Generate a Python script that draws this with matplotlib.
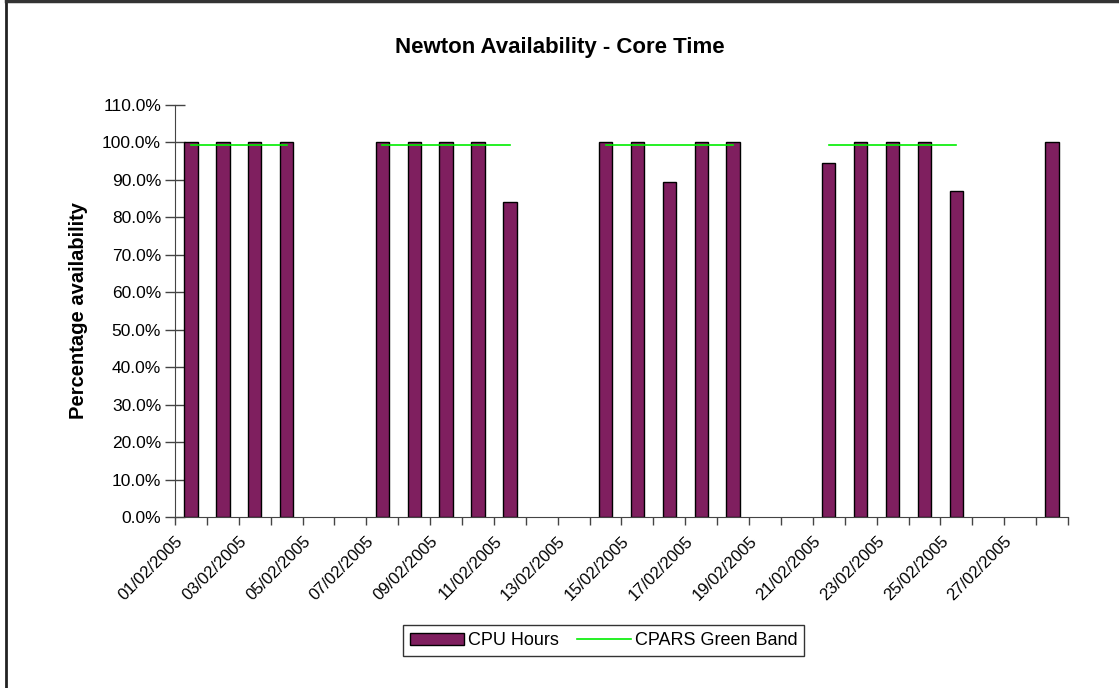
import matplotlib.pyplot as plt
import numpy as np
from matplotlib.lines import Line2D

plt.rcParams['font.family'] = ['Liberation Sans', 'DejaVu Sans']

# Data
dates = ["%02d/02/2005" % d for d in range(1, 29)]
nan = np.nan
cpu_hours = [100, 100, 100, 100, nan, nan,
             100, 100, 100, 100, 84.1, nan, nan,
             100, 100, 89.5, 100, 100, nan, nan,
             94.6, 100, 100, 100, 86.9, nan, nan,
             100]
green_band = [99.2, 99.2, 99.2, 99.2, nan, nan,
              99.2, 99.2, 99.2, 99.2, 99.2, nan, nan,
              99.2, 99.2, 99.2, 99.2, 99.2, nan, nan,
              99.2, 99.2, 99.2, 99.2, 99.2, nan, nan,
              99.2]
y_ticks = list(range(0, 111, 10))

fig = plt.figure(figsize=(11.19, 6.88), dpi=100)
ax = fig.add_axes([0.1564, 0.2485, 0.798, 0.599])

x = np.arange(len(dates)) + 0.5
bars = ax.bar(x, cpu_hours, width=0.42, color='#7f1f5f', edgecolor='black',
              linewidth=1.0, label='CPU Hours', zorder=2)
line, = ax.plot(x, green_band, color='#00ee00', linewidth=1.2,
                label='CPARS Green Band', zorder=3)

ax.set_xlim(0, len(dates))
ax.set_ylim(0, 110)
ax.set_yticks(y_ticks)
ax.set_yticklabels(["%.1f%%" % v for v in y_ticks], fontsize=12.5)
ax.set_xticks(np.arange(len(dates) + 1))
ax.set_xticklabels([dates[i] if (i < len(dates) and i % 2 == 0) else ''
                    for i in range(len(dates) + 1)],
                   rotation=45, ha='right', va='top', rotation_mode='anchor',
                   fontsize=12)
ax.tick_params(axis='y', direction='inout', length=14, width=1, color='#444444', pad=3)
ax.tick_params(axis='x', direction='out', length=6, width=1, color='#444444', pad=6)

for s in ['top', 'right']:
    ax.spines[s].set_visible(False)
for s in ['left', 'bottom']:
    ax.spines[s].set_color('#444444')

ax.set_ylabel('Percentage availability', fontsize=14.5, fontweight='bold', labelpad=10)
fig.text(0.5, 0.931, 'Newton Availability - Core Time', ha='center', va='center',
         fontsize=16, fontweight='bold')

leg = ax.legend([bars, line], ['CPU Hours', 'CPARS Green Band'],
                loc='center', bbox_to_anchor=(0.48, -0.30), ncol=2, frameon=True,
                fancybox=False, fontsize=13, handlelength=3, handletextpad=0.2,
                columnspacing=1.0, borderpad=0.4)
leg.get_frame().set_edgecolor('black')
leg.get_frame().set_linewidth(1)

# chart area border (only top and left edges visible)
fig.add_artist(Line2D([0.005, 0.005], [0, 0.999], transform=fig.transFigure,
                      color='#222222', linewidth=2))
fig.add_artist(Line2D([0.005, 1], [0.998, 0.998], transform=fig.transFigure,
                      color='#333333', linewidth=2.5))

fig.savefig('out.png', dpi=100)
